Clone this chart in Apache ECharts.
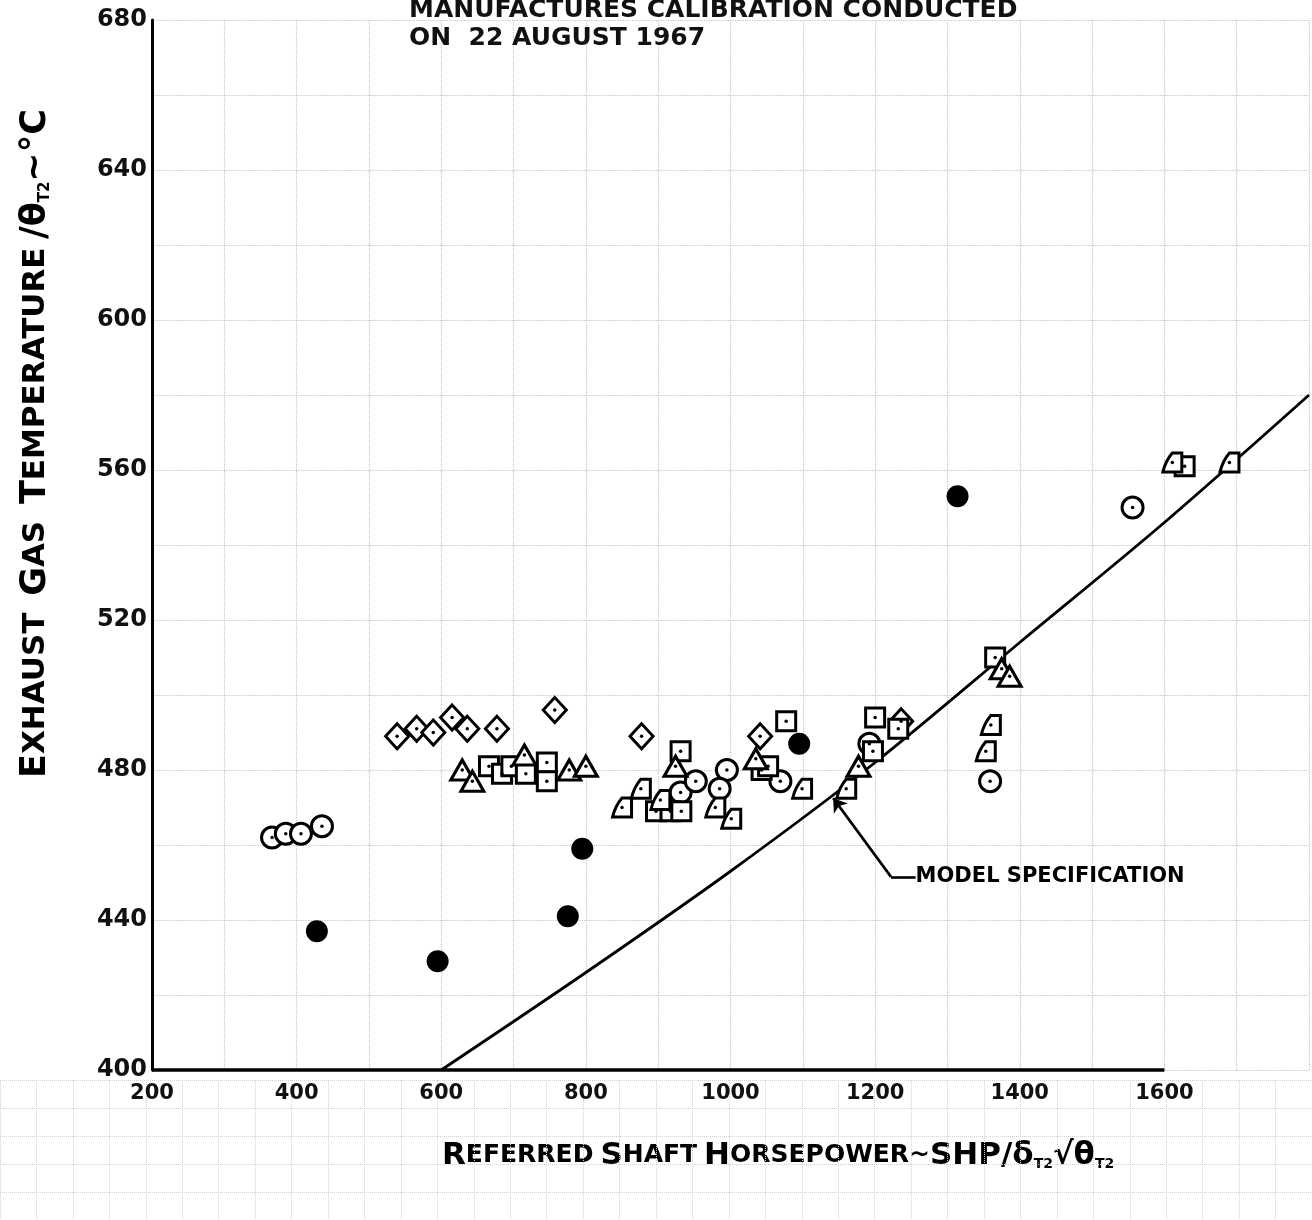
<!DOCTYPE html>
<html>
<head>
<meta charset="utf-8">
<script src="https://cdn.jsdelivr.net/npm/echarts@6/dist/echarts.min.js"></script>
<style>
  html, body { margin: 0; padding: 0; background: #fff; }
  #chart { width: 1312px; height: 1220px; }
</style>
</head>
<body>
<div id="chart"></div>
<script>
// values: [referred SHP, exhaust gas temp]
const diamonds = [[539,489],[566,491],[589,490],[615,494],[636,491],[677,491],[757,496],[877,489],[1041,489],[1236,493]];
const circles = [[366,462],[385,463],[406,463],[435,465],[931,474],[952,477],[995,480],[985,475],[1069,477],[1192,487],[1556,550],[1359,477]];
const squares = [[666,481],[684,479],[697,481],[717,479],[746,482],[746,477],[931,485],[897,469],[917,469],[932,469],[1077,493],[1043,480],[1052,481],[1200,494],[1197,485],[1366,510],[1628,561],[1232,491]];
const triangles = [[629,480],[643,477],[715,484],[777,480],[800,481],[924,481],[1035,483],[1177,481],[1375,507],[1386,505]];
const flags = [[850,470],[876,475],[903,472],[979,470],[1001,467],[1099,475],[1160,475],[1360,492],[1353,485],[1611,562],[1690,562]];
const filled = [[428,437],[595,429],[775,441],[795,459],[1095,487],[1314,553]];
// model specification curve
const modelSpec = [[600,400],[800,426],[1000,453],[1200,482],[1400,514],[1600,546],[1800,580]];
// leader line for the curve note
const noteAt = [1256,451.5];
const noteBend = [1222,451.5];
const noteTip = [1142,472.5];

const xTicks = [200,400,600,800,1000,1200,1400,1600];
const yTicks = [400,440,480,520,560,600,640,680];

const chart = echarts.init(document.getElementById('chart'));
const FONT = 'DejaVu Sans';
const flagPath = 'path://M10,0 L20,0 L20,20 L0,20 Q3,8 10,0 Z';

function hollow(name, data, symbol, size) {
  return {
    name: name, type: 'scatter', data: data, symbol: symbol, symbolSize: size,
    itemStyle: { color: '#fff', borderColor: '#000', borderWidth: 3, opacity: 1 },
    z: 3
  };
}

const allHollow = [].concat(diamonds, circles, squares, triangles, flags);

const txt = (size, extra) => Object.assign({ fontFamily: FONT, fontWeight: 'bold', fontSize: size, color: '#111' }, extra || {});

chart.setOption({
  animation: false,
  backgroundColor: '#fff',
  title: {
    text: 'MANUFACTURES CALIBRATION CONDUCTED\nON  22 AUGUST 1967',
    left: 404, top: -9,
    textStyle: { fontFamily: FONT, fontWeight: 'bold', fontSize: 25, lineHeight: 28, color: '#111' }
  },
  grid: [
    { left: 152, right: 0, top: 20, bottom: 150 },
    { left: 0, right: 0, top: 1080, bottom: 0 }
  ],
  xAxis: [{
    type: 'value', min: 200, max: 1800, interval: 100,
    axisLine: { show: false },
    axisTick: { show: false },
    axisLabel: {
      margin: 13,
      formatter: v => xTicks.indexOf(v) >= 0 ? String(v) : '',
      fontFamily: FONT, fontWeight: 'bold', fontSize: 21, color: '#111'
    },
    splitLine: { show: true, lineStyle: { color: '#c4c4c4', type: 'dotted', width: 1.2 } }
  }, {
    gridIndex: 1, type: 'value', min: 0, max: 36, interval: 1,
    axisLine: { show: false }, axisTick: { show: false }, axisLabel: { show: false },
    splitLine: { show: true, lineStyle: { color: '#d0d0d0', type: 'dotted', width: 1 } }
  }],
  yAxis: [{
    type: 'value', min: 400, max: 680, interval: 20,
    axisLine: { show: true, lineStyle: { color: '#000', width: 3 } },
    axisTick: { show: false },
    axisLabel: {
      margin: 5,
      formatter: v => yTicks.indexOf(v) >= 0 ? String(v) : '',
      fontFamily: FONT, fontWeight: 'bold', fontSize: 24, color: '#111'
    },
    splitLine: { show: true, lineStyle: { color: '#c4c4c4', type: 'dotted', width: 1.2 } }
  }, {
    gridIndex: 1, type: 'value', min: 0, max: 5, interval: 1,
    axisLine: { show: false }, axisTick: { show: false }, axisLabel: { show: false },
    splitLine: { show: true, lineStyle: { color: '#d0d0d0', type: 'dotted', width: 1 } }
  }],
  graphic: [{
    type: 'text', left: 442, top: 1140,
    style: {
      text: '{b|R}{s|EFERRED}{g| }{b|S}{s|HAFT}{g| }{b|H}{s|ORSEPOWER}{s|~}{b|SHP/δ}{sub|T2}{b|√θ}{sub|T2}',
      rich: {
        b: txt(31), s: txt(25), g: txt(20),
        sub: txt(14, { verticalAlign: 'bottom', padding: [12, 0, 0, 0] })
      }
    }
  }, {
    type: 'text', x: 18, y: 778, rotation: Math.PI / 2,
    style: {
      text: '{b|E}{s|XHAUST}{g|  }{b|G}{s|AS}{g|  }{b|T}{s|EMPERATURE}{g| }{b|/θ}{sub|T2}{b|~°C}',
      rich: {
        b: txt(35), s: txt(31), g: txt(24),
        sub: txt(15, { verticalAlign: 'bottom', padding: [12, 0, 0, 0] })
      }
    }
  }],
  series: [
    {
      name: 'Model specification', type: 'line', data: modelSpec, smooth: 0.3,
      showSymbol: false, symbol: 'none',
      lineStyle: { color: '#000', width: 2.8 },
      z: 2,
      markLine: {
        silent: true, symbol: 'none', label: { show: false },
        lineStyle: { color: '#000', width: 3.5, type: 'solid' },
        data: [
          [{ coord: [200, 400] }, { coord: [1600, 400] }],
          [{ coord: noteAt, symbol: 'none' }, { coord: noteBend, symbol: 'none', lineStyle: { width: 2.6 } }],
          [{ coord: noteBend, symbol: 'none' }, { coord: noteTip, symbol: 'arrow', symbolSize: 13, lineStyle: { width: 2.6 } }]
        ]
      }
    },
    {
      name: 'note', type: 'scatter', data: [noteAt], symbolSize: 0,
      itemStyle: { opacity: 1 },
      label: {
        show: true, position: 'right', distance: 0, formatter: 'MODEL SPECIFICATION',
        fontFamily: FONT, fontWeight: 'bold', fontSize: 21, color: '#000'
      }
    },
    hollow('diamond', diamonds, 'diamond', [23, 25]),
    hollow('circle', circles, 'circle', 21),
    hollow('square', squares, 'rect', 19),
    hollow('triangle', triangles, 'triangle', [23, 20]),
    hollow('flag', flags, flagPath, [19, 19]),
    {
      name: 'dot', type: 'scatter', data: allHollow, symbol: 'circle', symbolSize: 3.5,
      itemStyle: { color: '#000', opacity: 1 }, z: 4
    },
    {
      name: 'filled', type: 'scatter', data: filled, symbol: 'circle', symbolSize: 22,
      itemStyle: { color: '#000', opacity: 1 }, z: 3
    }
  ]
});
</script>
</body>
</html>
